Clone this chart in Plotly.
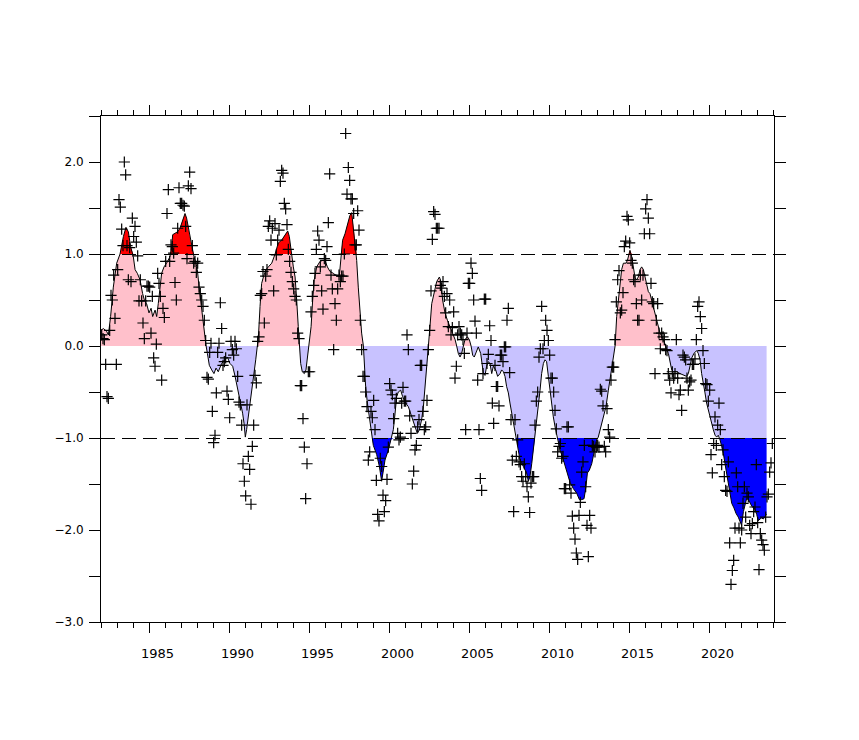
import numpy as np
import plotly.graph_objects as go

# ---------------- data ----------------
start_year = 1982
pdo_1982_1989 = [
    0.12, 0.08, 0.07, -0.20, -0.55, -0.57, 0.17, 0.55, 0.50, 0.77, 0.30, -0.20,
    0.83, 1.59, 1.51, 1.27, 1.09, 2.00, 1.86, 1.09, 0.72, 1.07, 0.70, 1.39,
    1.19, 1.30, 1.13, 0.98, 0.49, 0.72, 0.49, 0.25, 0.08, 0.49, 0.65, 0.65,
    0.64, 0.14, 0.54, -0.13, -0.22, 0.02, 0.79, 0.68, 0.54, -0.37, 0.41, 0.31,
    0.92, 1.44, 1.70, 0.92, 1.10, 1.08, 1.01, 0.69, 0.50, 1.28, 1.72, 1.55,
    1.55, 1.53, 1.52, 1.30, 0.95, 1.74, 1.89, 1.71, 1.09, 0.90, 0.92, 0.80,
    0.90, 0.64, 0.57, 0.50, 0.43, 0.28, 0.06, -0.34, -0.36, -0.07, 0.03, -0.71,
    -1.05, -0.97, -0.51, -0.07, 0.03, 0.47, 0.19, -0.21, -0.17, -0.13, -0.49, -0.58,
]
pdo_1990_1999 = [
    -0.78, 0.05, -0.04, -0.10, 0.05, -0.03, -0.33, -0.61, -0.64, -0.86, -1.28, -1.47,
    -1.63, -0.64, -1.20, -1.34, -1.72, -1.09, -0.86, -0.32, -0.40, 0.05, 0.10, 0.55,
    0.57, 0.81, 0.25, 0.76, 0.83, 1.30, 1.36, 1.15, 1.28, 0.60, 1.33, 0.99,
    1.15, 1.26, 1.79, 1.91, 1.88, 1.55, 1.49, 1.32, 1.05, 0.92, 0.80, 0.70,
    0.62, 0.54, 0.50, 0.14, 0.08, -0.43, -0.43, -0.79, -1.10, -1.66, -1.28, -0.28,
    -0.28, 0.37, 0.54, 0.66, 0.79, 1.05, 1.25, 1.15, 0.86, 0.60, 0.40, 0.95,
    0.93, 1.08, 1.34, 1.87, 0.77, 0.62, -0.04, 0.46, 0.28, 0.62, 0.77, 0.70,
    0.76, 0.76, 1.00, 2.31, 1.65, 1.94, 1.80, 1.60, 1.60, 1.44, 1.10, 1.10,
    1.47, 1.26, 0.28, -0.04, -0.33, -0.33, -0.50, -0.66, -1.24, -1.15, -0.71, -0.78,
    -0.59, -0.91, -1.46, -1.83, -1.90, -1.22, -1.31, -1.62, -1.80, -1.68, -1.45, -1.10,
]
pdo_2000_2009 = [
    -0.41, -0.48, -0.53, -0.79, -0.62, -0.57, -0.95, -1.02, -0.99, -0.62, -0.45, -0.60,
    -0.60, 0.12, -0.04, -0.76, -0.95, -1.50, -1.36, -1.13, -1.08, -0.88, -0.80, -0.21,
    -0.21, -0.71, -0.91, -0.88, -0.59, -0.04, 0.17, 0.60, 1.16, 1.46, 1.43, 1.28,
    1.28, 1.28, 0.66, 0.63, 0.70, 0.54, 0.36, 0.57, 0.21, 0.50, 0.12, 0.20,
    0.37, -0.35, -0.22, 0.12, 0.21, 0.14, 0.12, 0.07, -0.08, -0.91, 0.14, 0.68,
    0.68, 0.90, 0.79, 0.50, 0.27, 0.14, -0.37, -0.91, -1.44, -1.57, -0.30, 0.51,
    0.51, -0.19, -0.09, 0.22, 0.06, -0.62, -0.84, -0.21, -0.44, -0.44, -0.65, -0.10,
    -0.10, -0.17, -0.01, -0.01, 0.28, 0.41, -0.29, -0.80, -1.24, -1.80, -0.80, -1.20,
    -1.02, -1.26, -1.29, -1.42, -1.47, -1.28, -1.42, -1.53, -1.64, -1.81, -1.49, -1.42,
    -1.42, -0.86, -0.60, -0.50, -0.12, -0.03, 0.43, -0.03, 0.06, 0.28, 0.17, 0.06,
]
pdo_2010_2019 = [
    -0.10, -0.35, -0.35, -0.50, -0.70, -0.90, -1.15, -1.09, -1.06, -1.22, -1.20, -1.55,
    -1.55, -0.88, -0.88, -1.51, -1.60, -1.85, -1.98, -2.10, -2.25, -2.32, -1.84, -1.70,
    -1.37, -1.26, -1.08, -1.53, -1.95, -2.29, -1.84, -1.98, -1.08, -1.09, -1.15, -1.10,
    -1.08, -1.10, -0.47, -0.49, -0.65, -1.09, -1.15, -0.68, -0.91, -0.99, -0.37, -0.23,
    -0.23, 0.07, 0.48, 0.72, 0.82, 0.36, 0.39, 0.58, 1.08, 1.14, 1.41, 1.37,
    1.12, 0.93, 0.90, 0.72, 0.70, 0.46, 0.28, 0.28, 0.77, 0.50, 0.77, 1.22,
    1.49, 1.59, 1.39, 1.22, 0.68, 0.48, 0.46, -0.30, 0.28, 0.46, 0.14, -0.03,
    0.14, 0.10, 0.07, -0.04, -0.05, -0.30, -0.37, -0.51, -0.28, -0.35, -0.30, 0.07,
    -0.35, -0.53, -0.48, -0.70, -0.10, -0.12, -0.15, -0.35, -0.48, -0.39, -0.37, -0.20,
    -0.20, -0.14, 0.07, 0.43, 0.48, 0.32, 0.19, -0.05, -0.19, -0.41, -0.42, -0.60,
]
pdo_2020_2023 = [
    -0.48, -1.18, -1.38, -1.06, -0.77, -1.08, -0.86, -0.62, -0.91, -1.29, -1.13, -1.42,
    -1.57, -1.58, -1.26, -2.14, -2.59, -2.44, -2.33, -1.98, -1.38, -1.53, -1.98, -2.14,
    -2.00, -1.71, -1.53, -1.86, -1.60, -1.64, -1.95, -2.04, -1.93, -1.80, -1.75, -1.29,
    -1.92, -2.43, -2.04, -2.11, -2.16, -2.22, -1.86, -1.64, -1.61, -1.37, -1.27, -1.06,
]

# smoothed curve: vertices (decimal year, value)
smooth_t_a = [
    1982.00, 1982.15, 1982.35, 1982.46, 1982.60, 1982.77, 1982.98, 1983.19, 1983.40, 1983.56,
    1983.71, 1983.85, 1984.02, 1984.13, 1984.27, 1984.44, 1984.60, 1984.71, 1984.85, 1985.00,
    1985.13, 1985.23, 1985.38, 1985.48, 1985.58, 1985.69, 1985.79, 1985.94, 1986.10, 1986.31,
    1986.42, 1986.48, 1986.77, 1986.94, 1987.10, 1987.25, 1987.35, 1987.52, 1987.67, 1987.81,
    1987.94, 1988.02, 1988.15, 1988.29, 1988.44, 1988.56, 1988.65, 1988.77, 1988.92, 1989.06,
    1989.19, 1989.33, 1989.54, 1989.75, 1989.90, 1990.06, 1990.23, 1990.38, 1990.48, 1990.69,
    1990.85, 1990.94, 1991.02, 1991.10, 1991.21, 1991.31, 1991.48, 1991.58, 1991.67, 1991.77,
    1991.83, 1991.94, 1992.04, 1992.15, 1992.31, 1992.46, 1992.67, 1992.88, 1993.08, 1993.29,
    1993.50, 1993.67, 1993.77, 1993.90, 1994.02, 1994.13, 1994.19, 1994.23, 1994.33, 1994.40,
    1994.48, 1994.58, 1994.71, 1994.81, 1994.90, 1995.02, 1995.13, 1995.23, 1995.33, 1995.48,
    1995.69, 1995.85, 1996.00, 1996.15, 1996.31, 1996.52, 1996.73, 1996.90, 1997.00, 1997.10,
    1997.25, 1997.40, 1997.56, 1997.67, 1997.77, 1997.88, 1997.98, 1998.08, 1998.19, 1998.29,
    1998.40, 1998.46, 1998.54, 1998.65, 1998.77, 1998.85, 1998.94, 1999.02, 1999.23, 1999.40,
    1999.54, 1999.65, 1999.75, 1999.96, 2000.13, 2000.27, 2000.38, 2000.48, 2000.58, 2000.73,
    2000.85, 2001.00, 2001.21, 2001.42, 2001.63, 2001.77, 2001.90, 2002.04, 2002.15, 2002.27,
    2002.40, 2002.50, 2002.56, 2002.67, 2002.81, 2002.98, 2003.15, 2003.25, 2003.35, 2003.50,
]
smooth_v_a = [
    0.17, 0.19, 0.16, 0.12, 0.32, 0.64, 0.90, 1.00, 1.19, 1.29,
    1.24, 1.08, 0.97, 0.83, 0.79, 0.72, 0.57, 0.50, 0.46, 0.36,
    0.41, 0.32, 0.39, 0.32, 0.46, 0.68, 0.79, 0.86, 0.90, 0.97,
    1.08, 1.21, 1.24, 1.28, 1.37, 1.44, 1.39, 1.22, 1.08, 0.97,
    0.90, 0.83, 0.61, 0.39, 0.21, 0.01, -0.08, -0.21, -0.26, -0.30,
    -0.24, -0.28, -0.19, -0.15, -0.12, -0.19, -0.22, -0.33, -0.41, -0.59,
    -0.73, -0.84, -0.99, -0.91, -0.77, -0.62, -0.44, -0.30, -0.15, 0.00,
    0.07, 0.43, 0.68, 0.75, 0.83, 0.86, 0.90, 1.00, 1.12, 1.15,
    1.21, 1.25, 1.19, 1.00, 0.86, 0.75, 0.64, 0.50, 0.21, 0.00,
    -0.19, -0.28, -0.30, -0.26, -0.12, 0.00, 0.21, 0.50, 0.72, 0.86,
    0.92, 0.93, 0.93, 0.86, 0.81, 0.79, 0.76, 0.77, 0.93, 1.15,
    1.22, 1.32, 1.42, 1.45, 1.30, 1.15, 0.93, 0.64, 0.36, 0.14,
    0.00, -0.22, -0.44, -0.62, -0.77, -0.91, -0.99, -1.08, -1.18, -1.31,
    -1.47, -1.35, -1.24, -1.13, -1.02, -0.91, -0.73, -0.55, -0.50, -0.48,
    -0.55, -0.61, -0.66, -0.77, -0.89, -0.95, -0.91, -0.80, -0.66, -0.41,
    -0.12, 0.00, 0.21, 0.46, 0.57, 0.70, 0.75, 0.70, 0.50, 0.36,
]
smooth_t_b = [
    2003.65, 2003.81, 2003.98, 2004.13, 2004.23, 2004.33, 2004.44, 2004.54, 2004.65, 2004.75,
    2004.90, 2005.02, 2005.13, 2005.23, 2005.33, 2005.48, 2005.58, 2005.73, 2005.81, 2005.90,
    2006.00, 2006.10, 2006.21, 2006.31, 2006.42, 2006.52, 2006.67, 2006.79, 2006.94, 2007.04,
    2007.15, 2007.25, 2007.35, 2007.46, 2007.56, 2007.67, 2007.77, 2007.88, 2007.98, 2008.08,
    2008.19, 2008.40, 2008.60, 2008.71, 2008.81, 2008.92, 2009.02, 2009.13, 2009.23, 2009.33,
    2009.44, 2009.54, 2009.65, 2009.75, 2009.85, 2009.96, 2010.06, 2010.17, 2010.27, 2010.38,
    2010.48, 2010.58, 2010.69, 2010.90, 2011.10, 2011.31, 2011.52, 2011.73, 2011.90, 2012.04,
    2012.19, 2012.31, 2012.40, 2012.52, 2012.67, 2012.77, 2012.88, 2012.98, 2013.08, 2013.19,
    2013.40, 2013.56, 2013.71, 2013.81, 2013.92, 2014.02, 2014.13, 2014.23, 2014.33, 2014.44,
    2014.54, 2014.65, 2014.81, 2014.90, 2014.98, 2015.06, 2015.17, 2015.27, 2015.38, 2015.48,
    2015.58, 2015.69, 2015.79, 2015.90, 2016.00, 2016.10, 2016.21, 2016.31, 2016.42, 2016.52,
    2016.63, 2016.73, 2016.83, 2016.94, 2017.15, 2017.25, 2017.35, 2017.46, 2017.56, 2017.67,
    2017.77, 2017.98, 2018.19, 2018.40, 2018.60, 2018.71, 2018.81, 2018.92, 2019.06, 2019.23,
    2019.33, 2019.44, 2019.54, 2019.65, 2019.75, 2019.85, 2019.96, 2020.06, 2020.17, 2020.27,
    2020.38, 2020.48, 2020.58, 2020.69, 2020.79, 2020.90, 2021.00, 2021.10, 2021.21, 2021.31,
    2021.42, 2021.56, 2021.69, 2021.83, 2021.94, 2022.04, 2022.15, 2022.25, 2022.35, 2022.46,
    2022.56, 2022.67, 2022.77, 2022.88, 2022.98, 2023.08, 2023.19, 2023.29, 2023.40, 2023.50,
    2023.60,
]
smooth_v_b = [
    0.28, 0.21, 0.14, 0.07, 0.00, -0.08, -0.12, -0.08, 0.00, 0.07,
    0.10, 0.07, 0.00, -0.10, -0.12, -0.04, -0.01, -0.08, -0.22, -0.30,
    -0.32, -0.22, -0.17, -0.19, -0.30, -0.22, -0.26, -0.33, -0.30, -0.26,
    -0.28, -0.33, -0.44, -0.51, -0.62, -0.73, -0.80, -0.91, -1.02, -1.13,
    -1.24, -1.31, -1.38, -1.47, -1.42, -1.28, -1.13, -0.99, -0.84, -0.66,
    -0.48, -0.30, -0.19, -0.15, -0.17, -0.33, -0.48, -0.62, -0.77, -0.88,
    -0.95, -1.02, -1.13, -1.24, -1.35, -1.48, -1.55, -1.60, -1.67, -1.67,
    -1.66, -1.53, -1.38, -1.35, -1.28, -1.20, -1.09, -1.02, -0.99, -0.91,
    -0.77, -0.66, -0.48, -0.37, -0.26, -0.12, 0.00, 0.32, 0.50, 0.68,
    0.83, 0.90, 0.90, 0.93, 1.00, 1.04, 0.97, 0.83, 0.74, 0.72,
    0.75, 0.83, 0.86, 0.83, 0.75, 0.64, 0.59, 0.57, 0.50, 0.43,
    0.36, 0.28, 0.21, 0.14, 0.07, 0.01, -0.03, -0.08, -0.19, -0.26,
    -0.28, -0.28, -0.30, -0.32, -0.33, -0.30, -0.22, -0.13, -0.08, -0.05,
    -0.08, -0.15, -0.30, -0.44, -0.51, -0.62, -0.70, -0.77, -0.84, -0.91,
    -0.97, -0.99, -0.97, -1.02, -1.09, -1.17, -1.28, -1.38, -1.49, -1.60,
    -1.71, -1.76, -1.82, -1.86, -1.91, -1.95, -1.80, -1.74, -1.66, -1.67,
    -1.71, -1.74, -1.76, -1.78, -1.83, -1.90, -1.88, -1.87, -1.88, -1.86,
    -1.83,
]

x_tick_years = [1985, 1990, 1995, 2000, 2005, 2010, 2015, 2020]
y_tick_vals = [-3.0, -2.5, -2.0, -1.5, -1.0, -0.5, 0.0, 0.5, 1.0, 1.5, 2.0, 2.5]
y_tick_text = ["\u22123.0", "", "\u22122.0", "", "\u22121.0", "", "0.0", "", "1.0", "", "2.0", ""]

# ---------------- build ----------------
monthly = pdo_1982_1989 + pdo_1990_1999 + pdo_2000_2009 + pdo_2010_2019 + pdo_2020_2023
n_years = len(monthly) // 12
t_month = [start_year + y + (m + 0.5) / 12 for y in range(n_years) for m in range(12)]

st = np.array(smooth_t_a + smooth_t_b)
sv = np.array(smooth_v_a + smooth_v_b)

pos = np.clip(sv, 0, 1)
neg = np.clip(sv, -1, 0)
hi = np.maximum(sv, 1)
lo = np.minimum(sv, -1)

PINK = "rgb(255,192,203)"
LAV = "rgb(200,194,255)"

fig = go.Figure()
common = dict(mode="lines", line=dict(width=0), showlegend=False, hoverinfo="skip")
fig.add_trace(go.Scatter(x=st, y=pos, fill="tozeroy", fillcolor=PINK, **common))
fig.add_trace(go.Scatter(x=st, y=neg, fill="tozeroy", fillcolor=LAV, **common))
fig.add_trace(go.Scatter(x=st, y=np.ones_like(sv), **common))
fig.add_trace(go.Scatter(x=st, y=hi, fill="tonexty", fillcolor="rgb(255,0,0)", **common))
fig.add_trace(go.Scatter(x=st, y=-np.ones_like(sv), **common))
fig.add_trace(go.Scatter(x=st, y=lo, fill="tonexty", fillcolor="rgb(0,0,255)", **common))

fig.add_trace(go.Scatter(x=st, y=sv, mode="lines", line=dict(color="black", width=1),
                         showlegend=False, hoverinfo="skip"))
fig.add_trace(go.Scatter(x=t_month, y=monthly, mode="markers",
                         marker=dict(symbol="cross-thin", size=8, color="black",
                                     line=dict(color="black", width=1.2)),
                         showlegend=False))

PX_PER_UNIT = 92.0
for yv in (1.0, -1.0):
    yc = yv - 0.5 / PX_PER_UNIT  # pixel-crisp placement
    fig.add_shape(type="line", xref="paper", x0=0, x1=1, yref="y", y0=yc, y1=yc,
                  line=dict(color="black", width=1, dash="14px,7px"), layer="above")

X0, X1 = 1982.0, 1982.0 + 673 / 16.0

for yr in x_tick_years:
    fig.add_annotation(x=yr + 0.5, xref="x", y=0, yref="paper", yshift=-31,
                       text=str(yr), showarrow=False, yanchor="middle",
                       font=dict(family="DejaVu Sans", size=13, color="black"))

fig.update_layout(
    width=851, height=732,
    margin=dict(l=93, r=85, t=108, b=118),
    paper_bgcolor="white", plot_bgcolor="white",
    showlegend=False,
    xaxis=dict(range=[X0, X1], showgrid=False, zeroline=False,
               showline=True, linecolor="black", linewidth=1, mirror="ticks",
               tickmode="array", tickvals=x_tick_years, ticks="outside", ticklen=10,
               tickcolor="black", tickwidth=1, showticklabels=False,
               minor=dict(dtick=1, tick0=1982, ticks="outside", ticklen=5,
                          tickcolor="black", tickwidth=1, showgrid=False)),
    yaxis=dict(range=[-3.0, 2.5], showgrid=False, zeroline=False,
               showline=True, linecolor="black", linewidth=1, mirror="ticks",
               tickmode="array", tickvals=y_tick_vals, ticktext=y_tick_text,
               ticks="outside", ticklen=11, tickcolor="black", tickwidth=1,
               tickfont=dict(family="DejaVu Sans", size=12, color="black"),
               ticklabelstandoff=3),
)

fig.write_html("out.html")
